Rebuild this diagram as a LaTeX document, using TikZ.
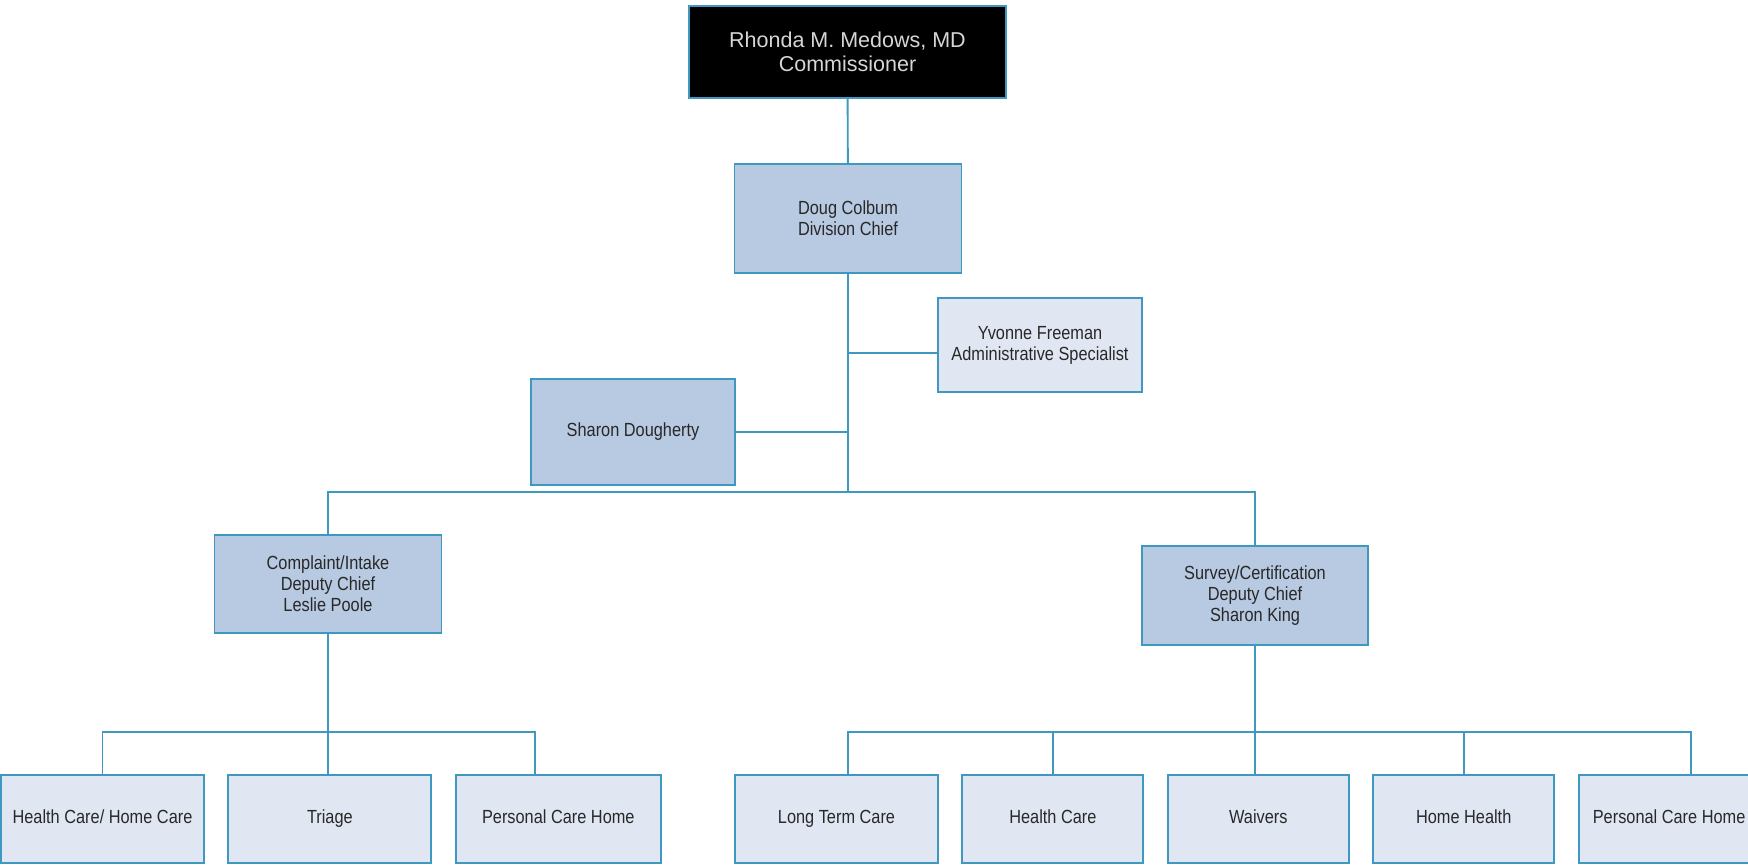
\documentclass[tikz,border=0pt]{standalone}
\usepackage{fontspec}
\setmainfont{Liberation Sans}
\newfontfamily\narrowsf[FakeStretch=0.86]{Liberation Sans}
\usetikzlibrary{positioning}
\definecolor{linkblue}{RGB}{62,152,192}
\definecolor{deepfill}{RGB}{184,201,226}
\definecolor{palefill}{RGB}{225,231,242}
\definecolor{inkgray}{RGB}{40,40,40}

\begin{document}
\begin{tikzpicture}[x=1pt, y=-1pt,
        box/.style={rectangle, draw=linkblue, line width=1.9pt, inner sep=0pt,
                    align=center, text=inkgray,
                    font=\narrowsf\fontsize{19}{21}\selectfont},
        lead/.style={box, fill=deepfill},
        oneline/.style={text height=13.6pt, text depth=4pt},
        unit/.style={box, oneline, fill=palefill, minimum width=181pt, minimum height=88pt},
        link/.style={draw=linkblue, line width=1.9pt},
        node distance=22.5pt]
      \useasboundingbox (0,0) rectangle (1748,865);
      % top of the chart
      \node[box, fill=black, text=white!84!black, font=\fontsize{21.5}{24}\selectfont,
            minimum width=317pt, minimum height=92pt] (comm) at (847.5,52)
            {Rhonda M. Medows, MD\\Commissioner};
      \node[lead, minimum width=227pt, minimum height=109pt] (doug) at (848,218.5)
            {Doug Colbum\\Division Chief};
      \node[box, fill=palefill, minimum width=204pt, minimum height=94pt] (yvonne) at (1040,345)
            {Yvonne Freeman\\Administrative Specialist};
      \node[lead, oneline, minimum width=204pt, minimum height=106pt] (sharon) at (633,432)
            {Sharon Dougherty};
      \node[lead, minimum width=227pt, minimum height=98pt] (intake) at (328,584)
            {Complaint/Intake\\Deputy Chief\\Leslie Poole};
      \node[lead, minimum width=226pt, minimum height=99pt] (survey) at (1255,595.5)
            {Survey/Certification\\Deputy Chief\\Sharon King};
      % bottom rows
      \node[unit, minimum width=203pt] (hchome) at (102.5,819) {Health Care/ Home Care};
      \node[unit, minimum width=203pt, right=of hchome] (triage) {Triage};
      \node[unit, minimum width=205pt, right=of triage] (pchleft) {Personal Care Home};
      \node[unit, minimum width=203pt] (ltc) at (836.5,819) {Long Term Care};
      \node[unit, right=of ltc] (hcare) {Health Care};
      \node[unit, right=of hcare] (waivers) {Waivers};
      \node[unit, right=of waivers] (hhealth) {Home Health};
      \node[unit, right=of hhealth] (pchright) {Personal Care Home};
      % connectors
      \coordinate (hub) at (848,492);
      \coordinate (yjoin) at ([yshift=-8pt]yvonne.west);
      \coordinate (lbar) at (328,732);
      \coordinate (rbar) at (1255,732);
      \draw[link] (comm) -- (doug);
      \draw[link] (doug) -- (hub);
      \draw[link] (yjoin) -- (yjoin -| hub);
      \draw[link] (sharon) -- (sharon -| hub);
      \draw[link] (intake) |- (hub) -| (survey);
      \draw[link] (intake) -- (intake |- triage.north);
      \draw[link] (hchome) |- (lbar) -| ([xshift=-23pt]pchleft.north);
      \draw[link] (survey) -- (survey |- waivers.north);
      \draw[link] ([xshift=11.5pt]ltc.north) |- (rbar) -| ([xshift=21.5pt]pchright.north);
      \draw[link] (hcare) -- (hcare |- rbar);
      \draw[link] (hhealth) -- (hhealth |- rbar);
    \end{tikzpicture}
\end{document}
